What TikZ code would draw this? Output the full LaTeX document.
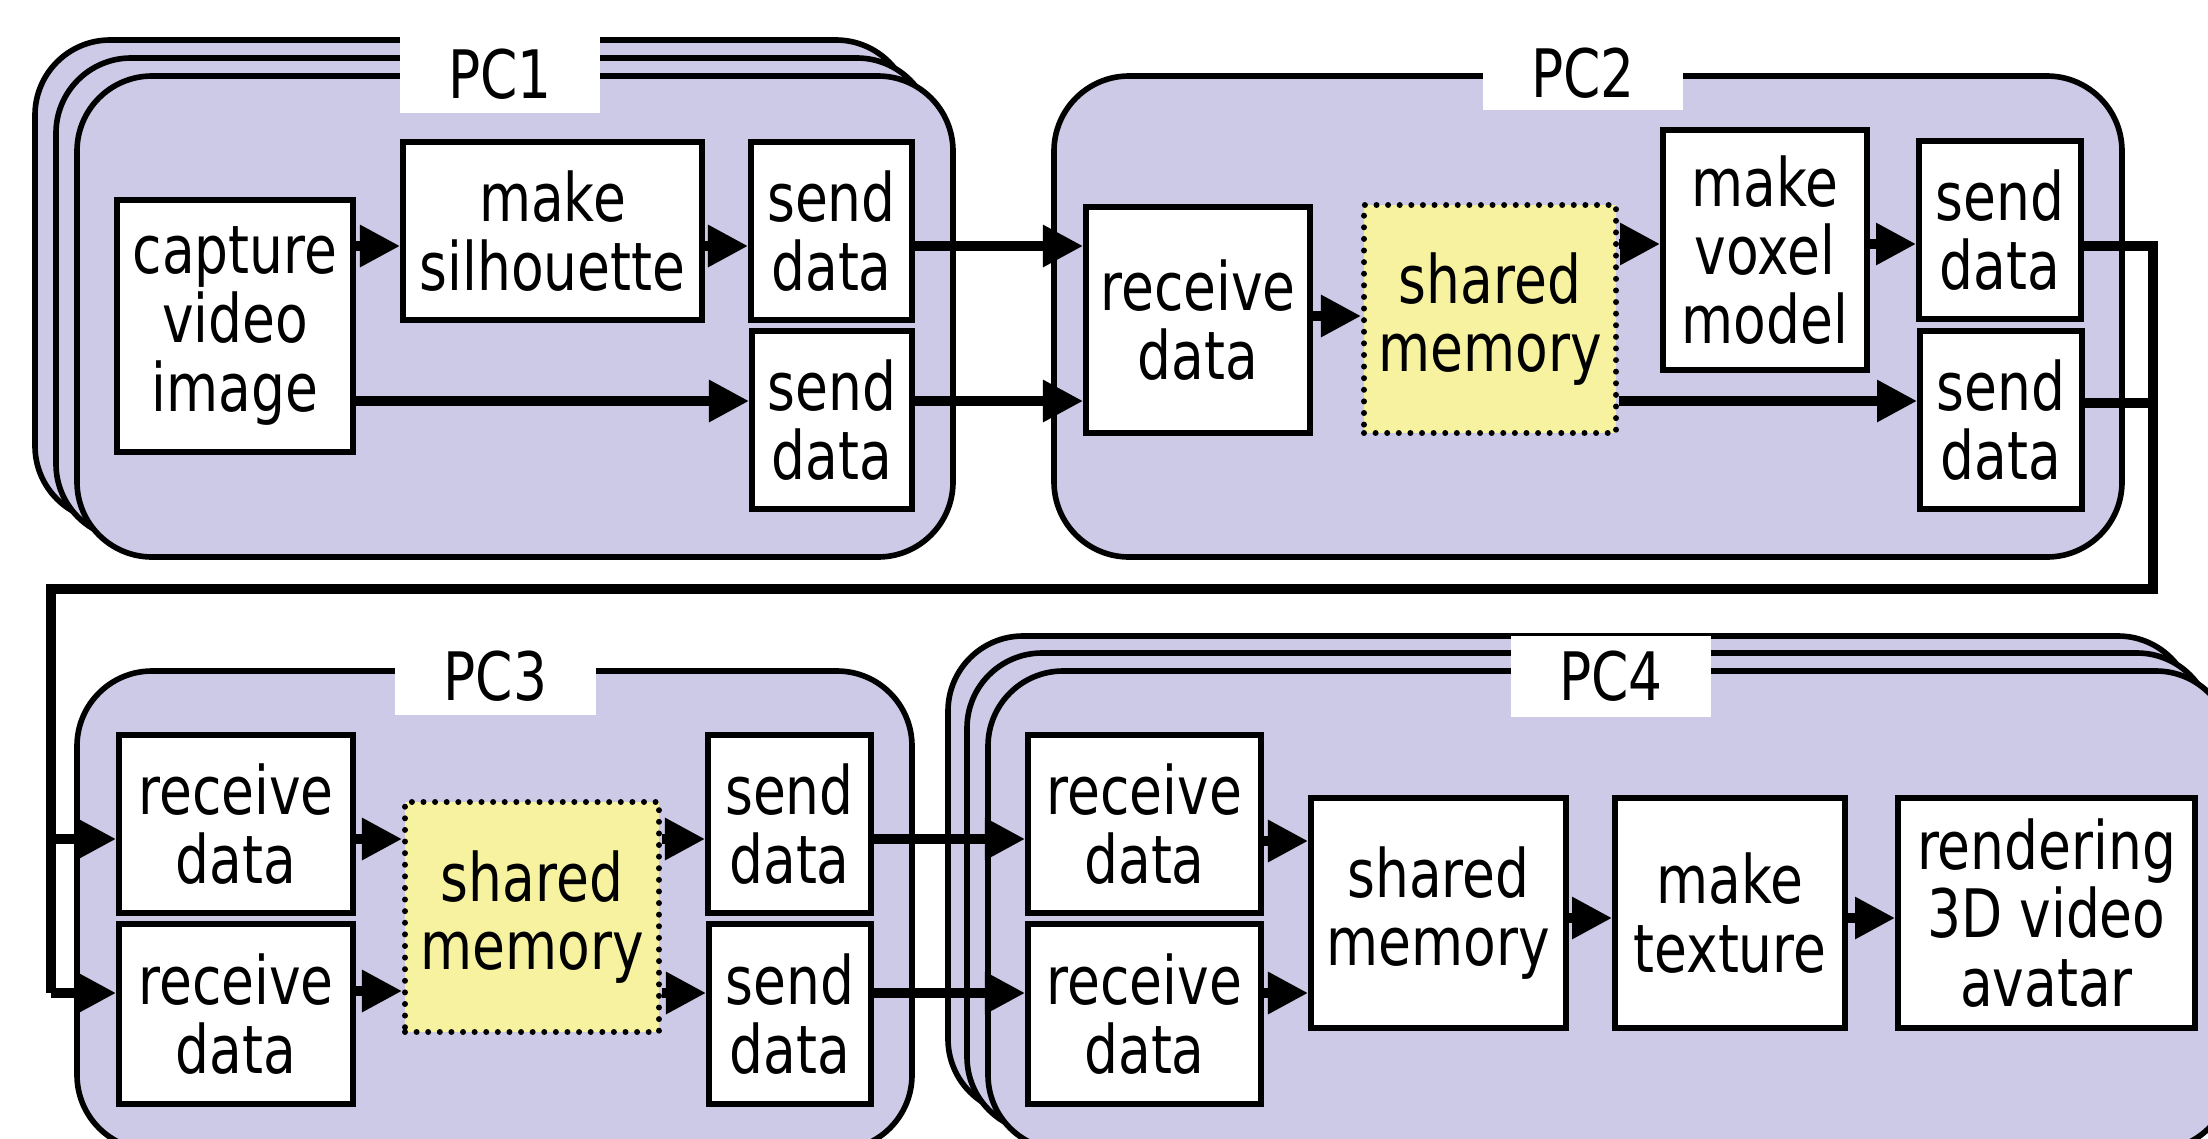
\documentclass[tikz,border=0pt]{standalone}
\usepackage{fontspec}
\setmainfont[FakeStretch=0.8]{DejaVu Sans}
\usepackage{tikz}
\usetikzlibrary{arrows.meta}

\definecolor{pcfill}{RGB}{204,202,230}
\definecolor{memfill}{RGB}{246,242,160}

\tikzset{
	pcframe/.style={draw=black, fill=pcfill, line width=1.6pt, rounded corners=0.75cm},
	pclabel/.style={fill=white, inner sep=0pt, font=\fontsize{19}{19}\selectfont},
	proc/.style={draw=black, fill=white, line width=1.7pt, inner sep=0pt, align=center, font=\fontsize{19}{19.5}\selectfont},
	shmem/.style={proc, fill=memfill, line width=1.7pt, dash pattern=on 0pt off 3.3pt, line cap=round},
	flow/.style={line width=2.6pt, -{Triangle[length=0.4cm,width=0.4cm]}},
	wire/.style={line width=2.6pt}
}

% box from its two corners (pixel units)
\def\procbox[#1](#2)(#3,#4)(#5,#6)#7{\node[#1, minimum width={(#5-#3)*0.01cm}, minimum height={(#6-#4)*0.01cm}] (#2) at ({(#3+#5)/2},{(#4+#6)/2}) {#7};}

\begin{document}
\begin{tikzpicture}[x=0.01cm, y=-0.01cm]
			\useasboundingbox (0,0) rectangle (2208,1139);
			\clip (0,0) rectangle (2208,1139);
			
			%%%%% FRAMES %%%%%
			
			\draw[pcframe] (35,40) rectangle (911,521);
			\draw[pcframe] (56,58) rectangle (932,539);
			\draw[pcframe] (77,76) rectangle (953,557);
			\procbox[pclabel](lbl1)(400,36)(600,113){PC1}
			
			\draw[pcframe] (1054,76) rectangle (2122,557);
			\procbox[pclabel](lbl2)(1483,36)(1683,110){PC2}
			
			\draw[pcframe] (77,671) rectangle (912,1150);
			\procbox[pclabel](lbl3)(395,637)(596,715){PC3}
			
			\draw[pcframe] (948,636) rectangle (2193,1114);
			\draw[pcframe] (967,653) rectangle (2212,1132);
			\draw[pcframe] (988,671) rectangle (2231,1150);
			\procbox[pclabel](lbl4)(1511,636)(1711,717){PC4}
			
			%%%%% PC1 %%%%%
			
			\procbox[proc](cap)(117,200)(353,452){capture\\video\\image}
			\procbox[proc](sil)(403,142)(702,320){make\\silhouette}
			\procbox[proc](snda)(751,142)(912,320){send\\data}
			\procbox[proc](sndb)(752,331)(912,509){send\\data}
			
			%%%%% PC2 %%%%%
			
			\procbox[proc](rcv)(1086,207)(1310,433){receive\\data}
			\procbox[shmem](shm)(1364,205)(1616,433){shared\\memory}
			\procbox[proc](vox)(1663,130)(1867,370){make\\voxel\\model}
			\procbox[proc](sndc)(1919,141)(2081,319){send\\data}
			\procbox[proc](sndd)(1920,331)(2082,509){send\\data}
			
			%%%%% PC3 %%%%%
			
			\procbox[proc](rcva)(119,735)(353,913){receive\\data}
			\procbox[proc](rcvb)(119,924)(353,1104){receive\\data}
			\procbox[shmem](shmb)(405,802)(659,1032){shared\\memory}
			\procbox[proc](snde)(708,735)(871,913){send\\data}
			\procbox[proc](sndf)(709,924)(871,1104){send\\data}
			
			%%%%% PC4 %%%%%
			
			\procbox[proc](rcvc)(1028,735)(1261,913){receive\\data}
			\procbox[proc](rcvd)(1028,924)(1261,1104){receive\\data}
			\procbox[proc](shmc)(1311,798)(1566,1028){shared\\memory}
			\procbox[proc](tex)(1615,798)(1845,1028){make\\texture}
			\procbox[proc](ren)(1898,798)(2195,1028){rendering\\3D video\\avatar}
			
			%%%%% ARROWS %%%%%
			
			\draw[flow] (cap.east |- 0,246) -- (sil.west |- 0,246);
			\draw[flow] (sil.east |- 0,246) -- (snda.west |- 0,246);
			\draw[flow] (cap.east |- 0,401) -- (sndb.west |- 0,401);
			
			\draw[flow] (snda.east |- 0,246) -- (rcv.west |- 0,246);
			\draw[flow] (sndb.east |- 0,401) -- (rcv.west |- 0,401);
			
			\draw[flow] (rcv.east |- 0,316) -- (shm.west |- 0,316);
			\draw[flow] (shm.east |- 0,244) -- (vox.west |- 0,244);
			\draw[flow] (vox.east |- 0,244) -- (sndc.west |- 0,244);
			\draw[flow] (shm.east |- 0,401) -- (sndd.west |- 0,401);
			
			% back down to PC3
			\coordinate (turnR) at (2153,589);
			\coordinate (turnL) at (51,589);
			\draw[wire] (sndc.east |- 0,246) -| (turnR) -- (turnL) -- (turnL |- 0,993);
			\draw[wire] (sndd.east |- 0,403) -- (turnR |- 0,403);
			\draw[flow] (turnL |- 0,839) -- (rcva.west |- 0,839);
			\draw[flow] (turnL |- 0,993) -- (rcvb.west |- 0,993);
			
			\draw[flow] (rcva.east |- 0,839) -- (shmb.west |- 0,839);
			\draw[flow] (rcvb.east |- 0,991) -- (shmb.west |- 0,991);
			\draw[flow] (shmb.east |- 0,839) -- (snde.west |- 0,839);
			\draw[flow] (shmb.east |- 0,993) -- (sndf.west |- 0,993);
			
			\draw[flow] (snde.east |- 0,839) -- (rcvc.west |- 0,839);
			\draw[flow] (sndf.east |- 0,993) -- (rcvd.west |- 0,993);
			
			\draw[flow] (rcvc.east |- 0,841) -- (shmc.west |- 0,841);
			\draw[flow] (rcvd.east |- 0,993) -- (shmc.west |- 0,993);
			\draw[flow] (shmc.east |- 0,918) -- (tex.west |- 0,918);
			\draw[flow] (tex.east |- 0,918) -- (ren.west |- 0,918);
			
\end{tikzpicture}
\end{document}
